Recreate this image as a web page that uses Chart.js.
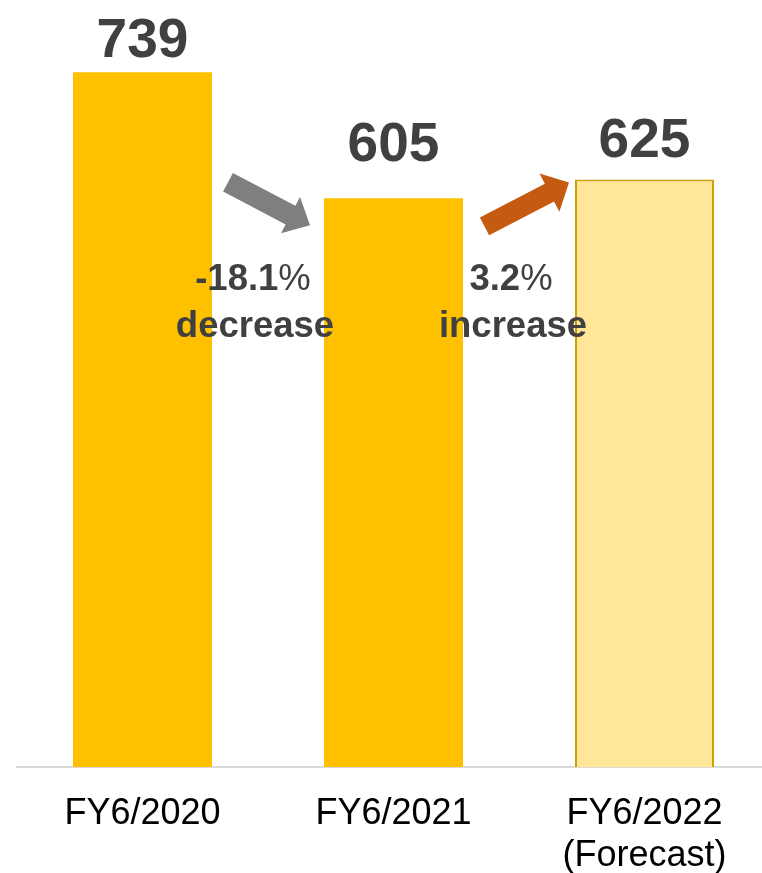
<!DOCTYPE html>
<html>
<head>
<meta charset="utf-8">
<script src="https://cdn.jsdelivr.net/npm/chart.js@4/dist/chart.umd.min.js"></script>
<style>
  html, body { margin: 0; padding: 0; background: #ffffff; overflow: hidden; }
  #wrap { position: relative; width: 772px; height: 903px; }
</style>
</head>
<body>
<div id="wrap"><canvas id="chart"></canvas></div>
<script>
// Fiscal-year results (last bar is the forecast)
const categories = [['FY6/2020'], ['FY6/2021'], ['FY6/2022', '(Forecast)']];
const values = [739, 605, 625];
const changeLabels = [['-18.1', '%', 'decrease'], ['3.2', '%', 'increase']];

const barColors = ['#FFC000', '#FFC000', '#FFE699'];
const barBorders = ['#FFC000', '#FFC000', '#C9A100'];
const barBorderWidths = [0, 0, 2];

// Gap between value label baseline and bar top
const valueLabelGap = [15, 37, 22];

const TEXT_DARK = '#404040';
const FONT = '"Liberation Sans", Arial, Helvetica, sans-serif';

function blockArrow(ctx, x1, y1, x2, y2, shaftW, headW, headL, color) {
  const ang = Math.atan2(y2 - y1, x2 - x1);
  const len = Math.hypot(x2 - x1, y2 - y1);
  ctx.save();
  ctx.translate(x1, y1);
  ctx.rotate(ang);
  ctx.beginPath();
  ctx.moveTo(0, -shaftW / 2);
  ctx.lineTo(len - headL, -shaftW / 2);
  ctx.lineTo(len - headL, -headW / 2);
  ctx.lineTo(len, 0);
  ctx.lineTo(len - headL, headW / 2);
  ctx.lineTo(len - headL, shaftW / 2);
  ctx.lineTo(0, shaftW / 2);
  ctx.closePath();
  ctx.fillStyle = color;
  ctx.fill();
  ctx.restore();
}

const annotations = {
  id: 'annotations',
  afterDatasetsDraw(chart) {
    const ctx = chart.ctx;
    const bars = chart.getDatasetMeta(0).data;
    const half = b => b.width / 2;

    // value labels above each bar
    ctx.save();
    ctx.fillStyle = TEXT_DARK;
    ctx.font = 'bold 55px ' + FONT;
    ctx.textAlign = 'center';
    ctx.textBaseline = 'alphabetic';
    bars.forEach((b, i) => {
      ctx.fillText(String(values[i]), b.x, b.y - valueLabelGap[i]);
    });
    ctx.restore();

    const b1 = bars[0], b2 = bars[1], b3 = bars[2];
    // change arrows between consecutive bars
    blockArrow(ctx, b1.x + half(b1) + 16, b2.y - 16, b2.x - half(b2) - 14, b2.y + 27, 21, 41, 22, '#7F7F7F');
    blockArrow(ctx, b2.x + half(b2) + 21.5, b2.y + 28, b3.x - half(b3) - 6, b3.y + 3, 20, 43, 22, '#C55A11');

    // change percentage text
    const centers = [(b1.x + b2.x) / 2 - 15, (b2.x + b3.x) / 2 - 8];
    changeLabels.forEach((lab, i) => {
      const cx = centers[i];
      ctx.save();
      ctx.fillStyle = TEXT_DARK;
      ctx.textBaseline = 'alphabetic';
      const boldFont = 'bold 36.5px ' + FONT;
      const thinFont = '36.5px ' + FONT;
      ctx.font = boldFont;
      const w1 = ctx.measureText(lab[0]).width;
      ctx.font = thinFont;
      const w2 = ctx.measureText(lab[1]).width;
      const start = cx - (w1 + w2) / 2;
      ctx.textAlign = 'left';
      ctx.font = boldFont;
      ctx.fillText(lab[0], start, 290);
      ctx.font = thinFont;
      ctx.fillText(lab[1], start + w1, 290);
      ctx.font = boldFont;
      ctx.textAlign = 'center';
      ctx.fillText(lab[2], cx + 2, 337);
      ctx.restore();
    });
  }
};

new Chart(document.getElementById('chart'), {
  type: 'bar',
  data: {
    labels: categories,
    datasets: [{
      data: values,
      backgroundColor: barColors,
      borderColor: barBorders,
      borderWidth: barBorderWidths,
      borderSkipped: 'bottom',
      categoryPercentage: 1,
      barPercentage: 139 / 251
    }]
  },
  options: {
    responsive: true,
    maintainAspectRatio: false,
    animation: false,
    layout: { padding: { top: 15, left: 17, right: 2, bottom: 0 } },
    plugins: { legend: { display: false }, tooltip: { enabled: false } },
    scales: {
      y: { display: false, min: 0, max: 800 },
      x: {
        grid: { display: false, drawTicks: false },
        border: { display: true, color: '#D9D9D9', width: 2 },
        ticks: {
          color: '#000000',
          font: { family: FONT, size: 36, lineHeight: 1.167 },
          padding: 26,
          maxRotation: 0,
          autoSkip: false
        }
      }
    }
  },
  plugins: [annotations]
});
</script>
</body>
</html>
